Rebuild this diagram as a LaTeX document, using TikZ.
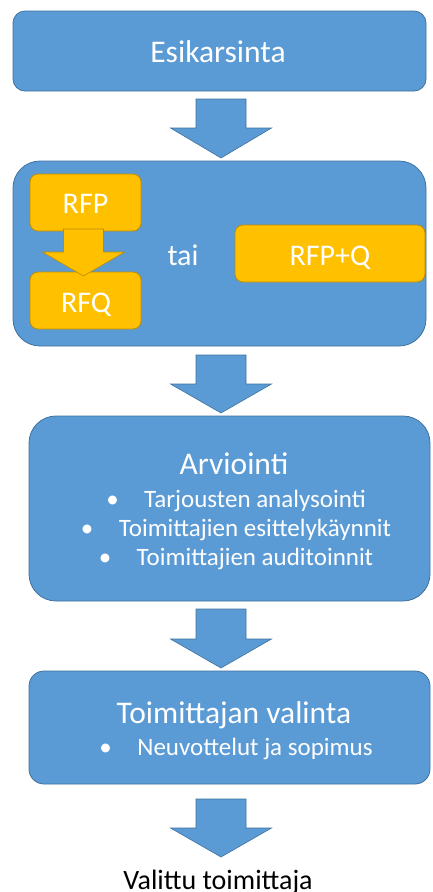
\documentclass[tikz,border=0pt]{standalone}
\usepackage{fontspec}
\setmainfont{Carlito}
\definecolor{bluefill}{HTML}{5B9BD5}
\definecolor{blueline}{HTML}{41719C}
\definecolor{orfill}{HTML}{FFC000}
\definecolor{orline}{HTML}{BC8C00}
\newcommand{\dnarrow}[7]{\filldraw[#7] (#1-#5,#2) -- (#1+#5,#2) -- (#1+#5,#3) -- (#1+#6,#3) -- (#1,#4) -- (#1-#6,#3) -- (#1-#5,#3) -- cycle;}
\tikzset{
  bluebox/.style={draw=blueline, fill=bluefill, line width=0.8pt, inner sep=0pt},
  orbox/.style={draw=orline, fill=orfill, line width=0.8pt, inner sep=0pt, rounded corners=8pt},
  bluearrow/.style={draw=blueline, fill=bluefill, line width=0.6pt},
  orarrow/.style={draw=orline, fill=orfill, line width=0.6pt},
  title/.style={text=white, anchor=base, inner sep=0pt, font=\fontsize{31.5}{38}\selectfont},
  smalltitle/.style={text=white, anchor=base, inner sep=0pt, font=\fontsize{30}{36}\selectfont},
  item/.style={text=white, anchor=base, inner sep=0pt, font=\fontsize{25}{30}\selectfont},
}
\newcommand{\bul}{\makebox[38pt][l]{•}}
\begin{document}
\begin{tikzpicture}[x=1pt,y=-1pt]
\useasboundingbox (0,0) rectangle (432,892);
\fill[white] (0,0) rectangle (432,892);
% boxes
\node[bluebox, rounded corners=12pt, minimum width=413pt, minimum height=80pt] (b1) at (219.5,51) {};
\node[bluebox, rounded corners=27pt, minimum width=413pt, minimum height=185pt] (b2) at (219.5,253.5) {};
\node[bluebox, rounded corners=27pt, minimum width=401pt, minimum height=185pt] (b3) at (229.5,508.5) {};
\node[bluebox, rounded corners=15pt, minimum width=401pt, minimum height=113pt] (b4) at (229.5,727.5) {};
% orange boxes
\node[orbox, minimum width=111pt, minimum height=57pt] (rfp) at (85.5,202.5) {};
\node[orbox, minimum width=111pt, minimum height=57pt] (rfq) at (85.5,300.5) {};
\node[orbox, minimum width=190pt, minimum height=57pt] (rfpq) at (330,253.5) {};
% arrows
\dnarrow{221}{99}{128}{158}{25}{50.5}{bluearrow}
\dnarrow{221}{355}{384}{413}{25}{50.5}{bluearrow}
\dnarrow{221}{609}{639}{668}{25}{50.5}{bluearrow}
\dnarrow{221}{799}{828}{857}{25}{50.5}{bluearrow}
\dnarrow{83.5}{229}{252}{276}{20}{41}{orarrow}
% texts
\node[title] (t1) at (218,62) {Esikarsinta};
\node[smalltitle] (trfp) at (85.5,213) {RFP};
\node[smalltitle] (trfq) at (86,312) {RFQ};
\node[smalltitle] (ttai) at (183,265) {tai};
\node[smalltitle] (trfpq) at (330,265) {RFP+Q};
\node[title] (t3) at (234,474) {Arviointi};
\node[item] (i1) at (236,507) {\bul Tarjousten analysointi};
\node[item] (i2) at (236,536) {\bul Toimittajien esittelykäynnit};
\node[item] (i3) at (236,565) {\bul Toimittajien auditoinnit};
\node[title] (t4) at (234,723) {Toimittajan valinta};
\node[item] (i4) at (236,755) {\bul Neuvottelut ja sopimus};
\node[anchor=base, inner sep=0pt, font=\fontsize{28}{33}\selectfont] (tend) at (218,889) {Valittu toimittaja};
\end{tikzpicture}
\end{document}
